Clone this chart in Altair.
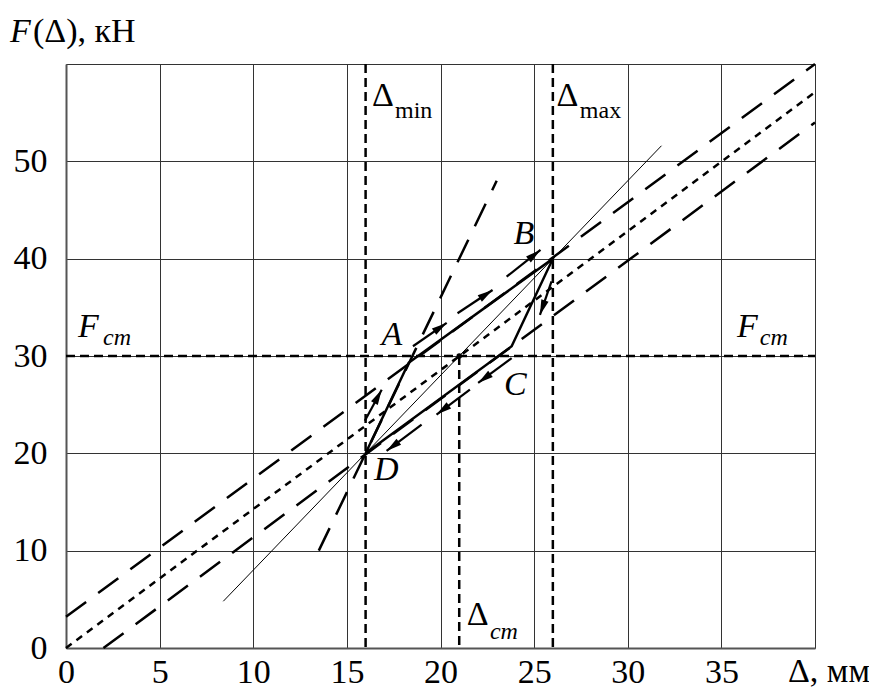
import math
import altair as alt
import pandas as pd

# ---------------- data ----------------
X_TICKS = [0, 5, 10, 15, 20, 25, 30, 35, 40]
Y_TICKS = [0, 10, 20, 30, 40, 50, 60]

DELTA_MIN = 16
DELTA_MAX = 26
DELTA_ST = 21
F_ST = 30

# straight reference lines (x1, y1) -> (x2, y2)
LINE_NAMES = ["upper", "middle", "lower", "steep", "thin"]
LINE_X1 = [0, 0, 2, 13.5, 8.4]
LINE_Y1 = [3.2, 0, 0, 10, 4.8]
LINE_X2 = [40, 40, 40, 23, 31.8]
LINE_Y2 = [60, 57.1, 54, 48, 51.6]

# hysteresis loop D -> A -> B -> C -> D
LOOP_X = [16, 18.3, 26, 23.8, 16]
LOOP_Y = [20, 29.3, 40, 31, 20]

# direction arrows (start -> end)
ARROW_X1 = [15.96, 18.53, 20.91, 23.53, 25.93, 23.8, 21.57, 18.99]
ARROW_Y1 = [23.34, 31.0, 34.39, 38.15, 37.67, 29.78, 26.54, 22.96]
ARROW_X2 = [16.86, 20.33, 22.78, 25.34, 25.31, 22.01, 19.79, 17.12]
ARROW_Y2 = [26.54, 33.4, 36.78, 40.9, 34.22, 27.23, 23.98, 20.24]

POINT_LABELS = ["A", "B", "C", "D"]
POINT_LABEL_X = [17.4, 24.45, 24.0, 17.1]
POINT_LABEL_Y = [32.2, 42.5, 27.0, 18.3]

# ---------------- layout ----------------
W, H = 749, 584
XMAX, YMAX = 40, 60
FONT = "Liberation Serif"
BIG = 34
SMALL = 24

xs = alt.Scale(domain=[0, XMAX], nice=False, zero=False)
ys = alt.Scale(domain=[0, YMAX], nice=False, zero=False)

x_axis = alt.Axis(values=X_TICKS, grid=True, ticks=False, title=None,
                  labelExpr="datum.value == 40 ? '' : datum.label",
                  labelFont=FONT, labelFontSize=BIG, labelColor="black",
                  labelPadding=7, labelFlush=False, labelOverlap=False,
                  gridColor="#333", gridWidth=1, domainColor="#555", domainWidth=2)
y_axis = alt.Axis(values=Y_TICKS, grid=True, ticks=False, title=None,
                  labelExpr="datum.value == 60 ? '' : datum.label",
                  labelFont=FONT, labelFontSize=BIG, labelColor="black",
                  labelPadding=19, labelFlush=False, labelOverlap=False,
                  gridColor="#333", gridWidth=1, domainColor="#555", domainWidth=2)


def X(field):
    return alt.X(field, scale=xs, axis=x_axis)


def Y(field):
    return alt.Y(field, scale=ys, axis=y_axis)


lines = pd.DataFrame({"name": LINE_NAMES, "x1": LINE_X1, "y1": LINE_Y1,
                      "x2": LINE_X2, "y2": LINE_Y2})


def seg(df, **style):
    return alt.Chart(df).mark_rule(strokeCap="butt", color="black", **style).encode(
        x=X("x1:Q"), y=Y("y1:Q"), x2="x2:Q", y2="y2:Q")


long_dash = seg(lines[lines.name.isin(["upper", "lower", "steep"])],
                strokeWidth=2.5, strokeDash=[25, 15])
dotted = seg(lines[lines.name == "middle"], strokeWidth=2.5, strokeDash=[7, 6])
thin = seg(lines[lines.name == "thin"], strokeWidth=1)

guides = pd.DataFrame({
    "x1": [DELTA_MIN, DELTA_MAX, DELTA_ST, 0],
    "y1": [YMAX, YMAX, F_ST, F_ST],
    "x2": [DELTA_MIN, DELTA_MAX, DELTA_ST, XMAX],
    "y2": [0, 0, 0, F_ST],
})
guide_rules = seg(guides, strokeWidth=2.5, strokeDash=[9, 5])

loop = alt.Chart(pd.DataFrame({"x": LOOP_X, "y": LOOP_Y, "i": range(len(LOOP_X))})).mark_line(
    color="black", strokeWidth=2.5, strokeJoin="miter").encode(
    x=X("x:Q"), y=Y("y:Q"), order="i:Q")

dot = alt.Chart(pd.DataFrame({"x": [DELTA_ST], "y": [F_ST]})).mark_point(
    filled=True, color="black", size=30, opacity=1).encode(x=X("x:Q"), y=Y("y:Q"))

sx, sy = W / XMAX, H / YMAX
angles = [(math.degrees(math.atan2((x2 - x1) * sx, (y2 - y1) * sy)) + 360) % 360
          for x1, y1, x2, y2 in zip(ARROW_X1, ARROW_Y1, ARROW_X2, ARROW_Y2)]
arrows = pd.DataFrame({"x1": ARROW_X1, "y1": ARROW_Y1, "x2": ARROW_X2, "y2": ARROW_Y2,
                       "angle": angles})
arrow_shafts = seg(arrows, strokeWidth=2.2)
arrow_heads = alt.Chart(arrows).mark_point(
    shape="M0,0L0.45,1.8L-0.45,1.8Z", filled=True, color="black", size=290, opacity=1,
    strokeWidth=0).encode(
    x=X("x2:Q"), y=Y("y2:Q"), angle=alt.Angle("angle:Q", scale=None))


def text_layer(xv, yv, texts, size, italic, baseline="alphabetic", align="left"):
    df = pd.DataFrame({"x": xv, "y": yv, "t": texts})
    return alt.Chart(df).mark_text(font=FONT, fontSize=size, color="black",
                                   fontStyle="italic" if italic else "normal",
                                   baseline=baseline, align=align).encode(
        x=X("x:Q"), y=Y("y:Q"), text="t:N")


point_labels = text_layer(POINT_LABEL_X, POINT_LABEL_Y, POINT_LABELS, BIG, True,
                          baseline="middle", align="center")
f_main = text_layer([0.64, 35.83], [32.0, 32.0], ["F", "F"], BIG, True)
f_sub = text_layer([1.98, 37.05], [31.1, 31.1], ["ст", "ст"], SMALL, True)
d_main = text_layer([16.34, 26.2, 21.4], [55.7, 55.7, 2.35], ["Δ", "Δ", "Δ"], BIG, False)
d_sub_up = text_layer([17.57, 27.44], [54.5, 54.45], ["min", "max"], SMALL, False)
d_sub_st = text_layer([22.64], [0.92], ["ст"], SMALL, True)


def pix_text(px, py, txt, italic):
    return alt.Chart(pd.DataFrame({"t": [txt]})).mark_text(
        font=FONT, fontSize=BIG, color="black", align="left", baseline="alphabetic",
        fontStyle="italic" if italic else "normal").encode(
        x=alt.value(px), y=alt.value(py), text="t:N")


title_f = pix_text(-56, -22, "F", True)
title_rest = pix_text(-33, -22, "(Δ), кН", False)
x_title = pix_text(722, 618, "Δ, мм", False)

chart = alt.layer(
    thin, dotted, long_dash, guide_rules, loop, arrow_shafts, arrow_heads, dot,
    point_labels, f_main, f_sub, d_main, d_sub_up, d_sub_st, title_f, title_rest, x_title
).properties(
    width=W, height=H,
    autosize=alt.AutoSizeParams(type="none"),
    padding={"left": 58, "top": 56, "right": 54, "bottom": 41},
).configure_view(stroke="#555", strokeWidth=2).configure(background="white")

chart.save("out.html", embed_options={"renderer": "svg", "actions": False})
